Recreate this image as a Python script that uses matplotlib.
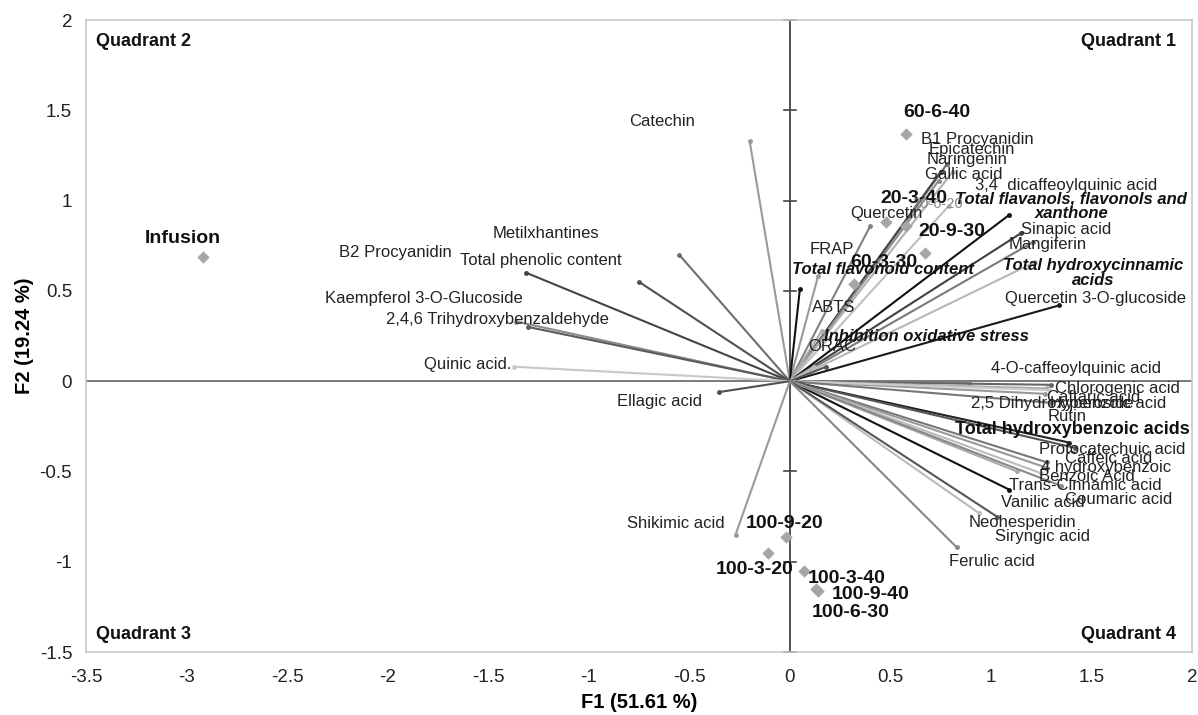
import matplotlib
matplotlib.use("Agg")
import matplotlib.pyplot as plt

plt.rcParams['font.family'] = ['Liberation Sans', 'DejaVu Sans']

# ---- variables (loading vectors) ----
var_names = ["Catechin", "Metilxhantines", "Total phenolic content", "B2 Procyanidin",
             "Kaempferol 3-O-Glucoside", "2,4,6 Trihydroxybenzaldehyde", "Quinic acid.",
             "Ellagic acid", "Shikimic acid",
             "B1 Procyanidin", "Epicatechin", "Naringenin", "Gallic acid",
             "3,4  dicaffeoylquinic acid", "Total flavanols, flavonols and\nxanthone",
             "Sinapic acid", "Mangiferin", "Total hydroxycinnamic\nacids",
             "Quercetin 3-O-glucoside", "Quercetin", "FRAP", "Total flavonoid content",
             "ABTS", "ORAC", "Inhibition oxidative stress",
             "4-O-caffeoylquinic acid", "Chlorogenic acid", "Caftaric acid",
             "2,5 Dihydroxybenzoic acid", "Hyperoside", "Rutin",
             "Total hydroxybenzoic acids", "Protocatechuic acid", "Caffeic acid",
             "4 hydroxybenzoic", "Benzoic Acid", "Trans-Cinnamic acid", "Vanilic acid",
             "Coumaric acid", "Neohesperidin", "Siryngic acid", "Ferulic acid"]
var_f1 = [-0.20, -0.55, -0.75, -1.31, -1.36, -1.30, -1.37, -0.35, -0.27,
          0.78, 0.75, 0.74, 0.81, 0.79, 1.09, 1.15, 1.21, 1.22, 1.34, 0.40,
          0.14, 0.05, 0.16, 0.12, 0.18,
          0.89, 1.30, 1.28, 1.27, 1.29, 1.30,
          1.39, 1.42, 1.28, 1.28, 1.25, 1.09, 1.13, 1.35, 0.94, 1.03, 0.83]
var_f2 = [1.33, 0.70, 0.55, 0.60, 0.33, 0.30, 0.08, -0.06, -0.85,
          1.20, 1.16, 1.11, 1.16, 0.97, 0.92, 0.82, 0.77, 0.66, 0.42, 0.86,
          0.58, 0.51, 0.28, 0.08, 0.08,
          -0.01, -0.02, -0.04, -0.07, -0.05, -0.12,
          -0.34, -0.37, -0.45, -0.48, -0.51, -0.60, -0.50, -0.58, -0.73, -0.75, -0.92]

# ---- observations (samples) ----
obs_names = ["Infusion", "60-6-40", "20-3-40", "20-6-20", "20-9-30", "60-3-30",
             "100-9-20", "100-3-20", "100-3-40", "100-9-40", "100-6-30"]
obs_f1 = [-2.92, 0.58, 0.48, 0.58, 0.67, 0.32, -0.02, -0.11, 0.07, 0.13, 0.14]
obs_f2 = [0.69, 1.37, 0.88, 0.86, 0.71, 0.54, -0.86, -0.95, -1.05, -1.15, -1.16]

x_ticks = [-3.5, -3, -2.5, -2, -1.5, -1, -0.5, 0, 0.5, 1, 1.5, 2]
y_ticks = [-1.5, -1, -0.5, 0, 0.5, 1, 1.5, 2]
quadrants = ["Quadrant 1", "Quadrant 2", "Quadrant 3", "Quadrant 4"]

# ---- styling (not data) ----
var_colors = ["#9a9a9a", "#6e6e6e", "#505050", "#454545", "#8a8a8a", "#5a5a5a", "#c8c8c8",
              "#505050", "#9a9a9a",
              "#6a6a6a", "#4a4a4a", "#8a8a8a", "#b0b0b0", "#c0c0c0", "#111111",
              "#404040", "#7a7a7a", "#b8b8b8", "#1a1a1a", "#808080", "#9a9a9a", "#111111",
              "#aaaaaa", "#bbbbbb", "#555555",
              "#888888", "#666666", "#aaaaaa", "#999999", "#cccccc", "#777777",
              "#222222", "#555555", "#777777", "#999999", "#bbbbbb", "#111111", "#aaaaaa",
              "#888888", "#bbbbbb", "#555555", "#888888"]
var_lab = [(-0.80, 1.44), (-1.48, 0.82), (-1.64, 0.67), (-2.24, 0.71),
           (-2.31, 0.46), (-2.01, 0.34), (-1.82, 0.09), (-0.86, -0.11), (-0.81, -0.79),
           (0.65, 1.34), (0.69, 1.285), (0.68, 1.225), (0.67, 1.145), (0.92, 1.085),
           (1.40, 0.97), (1.15, 0.84), (1.09, 0.755), (1.51, 0.60), (1.07, 0.46),
           (0.30, 0.93), (0.10, 0.73), (0.01, 0.62), (0.11, 0.41), (0.09, 0.19),
           (0.17, 0.245),
           (1.00, 0.07), (1.32, -0.04), (1.28, -0.09), (0.90, -0.125), (1.29, -0.125),
           (1.28, -0.195), (0.82, -0.27), (1.24, -0.38), (1.37, -0.43), (1.25, -0.48),
           (1.24, -0.525), (1.09, -0.575), (1.05, -0.67), (1.37, -0.655), (0.89, -0.78),
           (1.02, -0.86), (0.79, -1.00)]
emph = {"Total flavanols, flavonols and\nxanthone", "Total hydroxycinnamic\nacids",
        "Total flavonoid content", "Inhibition oxidative stress"}
bold_only = {"Total hydroxybenzoic acids"}
centered = {"Total flavanols, flavonols and\nxanthone", "Total hydroxycinnamic\nacids"}

obs_lab = [(-3.02, 0.79, "center"), (0.73, 1.49, "center"), (0.45, 1.01, "left"),
           (0.61, 0.98, "left"), (0.64, 0.83, "left"), (0.30, 0.66, "left"),
           (-0.22, -0.79, "left"), (-0.37, -1.04, "left"), (0.09, -1.09, "left"),
           (0.21, -1.18, "left"), (0.11, -1.28, "left")]

fig = plt.figure(figsize=(11.98, 7.15), dpi=100)
ax = fig.add_axes([0.0718, 0.088, 0.9232, 0.884])
ax.set_xlim(x_ticks[0], x_ticks[-1])
ax.set_ylim(y_ticks[0], y_ticks[-1])
ax.set_xticks(x_ticks)
ax.set_yticks(y_ticks)
ax.set_xticklabels([f"{t:g}" for t in x_ticks], fontsize=13.5, color="#222222")
ax.set_yticklabels([f"{t:g}" for t in y_ticks], fontsize=13.5, color="#222222")
ax.tick_params(axis="x", length=0, pad=12)
ax.tick_params(axis="y", length=0, pad=10)
for s in ax.spines.values():
    s.set_color("#c8c8c8")
    s.set_linewidth(1.2)

ax.axhline(0, color="#6e6e6e", lw=1.3, zorder=1)
ax.axvline(0, color="#444444", lw=1.3, zorder=1)
for t in y_ticks:
    ax.plot([-0.03, 0.03], [t, t], color="#444444", lw=1.2, zorder=1, clip_on=False)

for name, x, y, c, (lx, ly) in zip(var_names, var_f1, var_f2, var_colors, var_lab):
    ax.plot([0, x], [0, y], color=c, lw=1.5, zorder=2, solid_capstyle="butt")
    ax.plot([x], [y], marker="o", ms=2.5, color=c, zorder=2)
    kw = dict(fontsize=12, color="#222222", va="center", zorder=4)
    if name in emph:
        kw.update(fontweight="bold", fontstyle="italic", fontsize=12, color="#111111")
    elif name in bold_only:
        kw.update(fontweight="bold", fontsize=13, color="#111111")
    ax.text(lx, ly, name, ha="center" if name in centered else "left",
            multialignment="center", linespacing=1.0, **kw)

ax.scatter(obs_f1, obs_f2, marker="D", s=40, color="#a6a6a6", zorder=3, linewidths=0)
for name, (lx, ly, ha) in zip(obs_names, obs_lab):
    if name == "20-6-20":
        ax.text(lx, ly, name, fontsize=10.5, color="#888888", ha=ha, va="center", zorder=4)
    else:
        ax.text(lx, ly, name, fontsize=14, fontweight="bold", color="#111111",
                ha=ha, va="center", zorder=4)

qkw = dict(fontsize=13, fontweight="bold", color="#111111", va="center")
ax.text(1.92, 1.88, quadrants[0], ha="right", **qkw)
ax.text(-3.45, 1.88, quadrants[1], ha="left", **qkw)
ax.text(-3.45, -1.40, quadrants[2], ha="left", **qkw)
ax.text(1.92, -1.40, quadrants[3], ha="right", **qkw)

ax.set_xlabel("F1 (51.61 %)", fontsize=14.5, fontweight="bold", labelpad=5)
ax.set_ylabel("F2 (19.24 %)", fontsize=14.5, fontweight="bold", labelpad=4)

fig.savefig("out.png", dpi=100)
